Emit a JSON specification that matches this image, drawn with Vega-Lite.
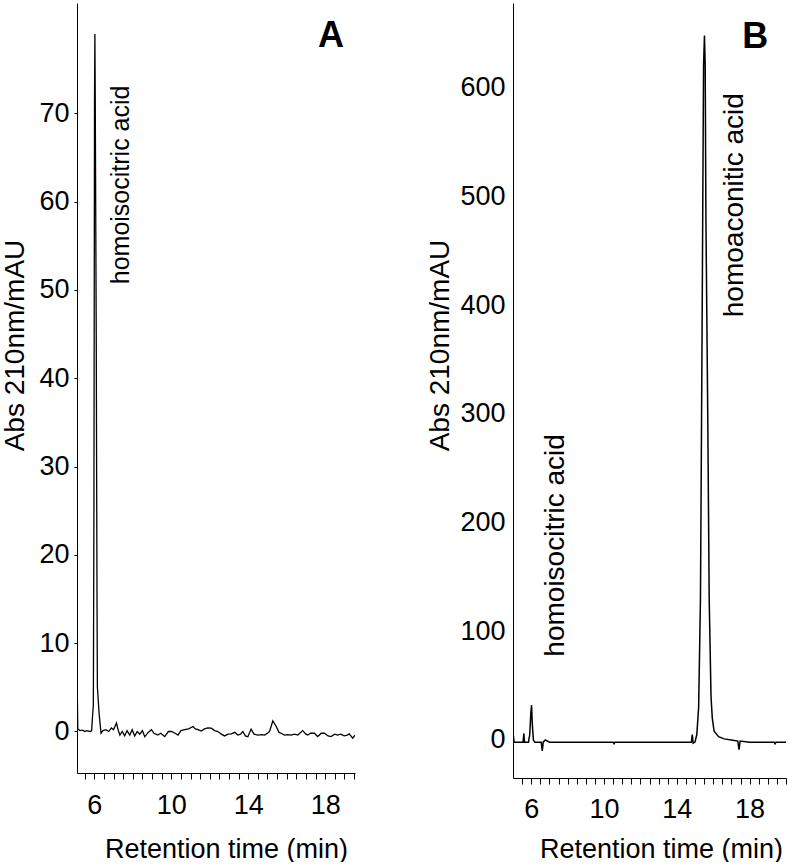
{
  "$schema": "https://vega.github.io/schema/vega-lite/v6.json",
  "padding": {"left": 1, "top": 3, "right": 0, "bottom": 0},
  "spacing": 71,
  "background": "white",
  "config": {
    "view": {"stroke": null},
    "font": "Liberation Sans",
    "axis": {"grid": false, "domainColor": "black", "tickColor": "black", "labelColor": "black", "titleColor": "black", "labelFont": "Liberation Sans", "titleFont": "Liberation Sans", "titleFontWeight": "normal", "labelOverlap": false, "labelFlush": false, "tickCount": 100}
  },
  "datasets": {
    "a": [
      {"t": 5.1, "v": 6.8}, {"t": 5.14, "v": 0.3}, {"t": 5.25, "v": 0.1}, {"t": 5.4, "v": 0.15}, {"t": 5.5, "v": 0.0}, {"t": 5.6, "v": 0.1}, {"t": 5.7, "v": 0.05}, {"t": 5.8, "v": 0.0}, {"t": 5.86, "v": 0.1},
      {"t": 5.9, "v": 1.5}, {"t": 5.95, "v": 3}, {"t": 5.98, "v": 25}, {"t": 6.01, "v": 71}, {"t": 6.03, "v": 79}, {"t": 6.05, "v": 71}, {"t": 6.1, "v": 45}, {"t": 6.14, "v": 15}, {"t": 6.16, "v": 5}, {"t": 6.25, "v": 2}, {"t": 6.35, "v": -0.2},
      {"t": 6.45, "v": 0.1}, {"t": 6.6, "v": 0.2}, {"t": 6.75, "v": 0.0}, {"t": 6.89, "v": 0.4}, {"t": 7.0, "v": 0.2}, {"t": 7.15, "v": 0.95}, {"t": 7.25, "v": 0.1}, {"t": 7.33, "v": -0.4}, {"t": 7.45, "v": 0.0}, {"t": 7.58, "v": -0.5}, {"t": 7.7, "v": 0.1}, {"t": 7.84, "v": -0.4}, {"t": 7.97, "v": 0.2}, {"t": 8.1, "v": -0.5}, {"t": 8.23, "v": 0.0}, {"t": 8.36, "v": -0.3}, {"t": 8.5, "v": 0.1}, {"t": 8.62, "v": -0.6}, {"t": 8.8, "v": -0.1}, {"t": 8.97, "v": 0.2}, {"t": 9.1, "v": -0.2}, {"t": 9.31, "v": -0.4}, {"t": 9.45, "v": -0.2}, {"t": 9.66, "v": -0.57}, {"t": 9.85, "v": 0.0}, {"t": 10.01, "v": 0.0}, {"t": 10.2, "v": -0.2}, {"t": 10.35, "v": -0.4}, {"t": 10.5, "v": 0.1}, {"t": 10.7, "v": 0.2}, {"t": 10.9, "v": 0.3}, {"t": 11.13, "v": 0.57}, {"t": 11.25, "v": 0.3}, {"t": 11.39, "v": 0.2}, {"t": 11.55, "v": 0.05}, {"t": 11.73, "v": 0.3}, {"t": 11.9, "v": 0.4}, {"t": 12.08, "v": 0.38}, {"t": 12.25, "v": 0.1}, {"t": 12.43, "v": 0.0}, {"t": 12.6, "v": -0.3}, {"t": 12.77, "v": -0.5}, {"t": 12.95, "v": -0.3}, {"t": 13.12, "v": -0.27}, {"t": 13.3, "v": -0.1}, {"t": 13.46, "v": -0.4}, {"t": 13.6, "v": -0.3}, {"t": 13.72, "v": 0.0}, {"t": 13.85, "v": -0.5}, {"t": 13.98, "v": -0.6}, {"t": 14.15, "v": 0.27}, {"t": 14.3, "v": -0.3}, {"t": 14.5, "v": -0.4}, {"t": 14.7, "v": -0.35}, {"t": 14.85, "v": -0.4}, {"t": 15.0, "v": -0.2}, {"t": 15.11, "v": 0.0}, {"t": 15.28, "v": 1.2}, {"t": 15.45, "v": 0.6}, {"t": 15.6, "v": -0.1}, {"t": 15.71, "v": -0.2}, {"t": 15.88, "v": -0.4}, {"t": 16.05, "v": -0.35}, {"t": 16.23, "v": -0.4}, {"t": 16.4, "v": -0.3}, {"t": 16.58, "v": -0.4}, {"t": 16.83, "v": 0.1}, {"t": 17.0, "v": -0.3}, {"t": 17.09, "v": -0.4}, {"t": 17.25, "v": -0.2}, {"t": 17.44, "v": -0.2}, {"t": 17.61, "v": -0.57}, {"t": 17.8, "v": -0.2}, {"t": 17.96, "v": -0.2}, {"t": 18.15, "v": -0.5}, {"t": 18.3, "v": -0.57}, {"t": 18.5, "v": -0.3}, {"t": 18.65, "v": -0.4}, {"t": 18.8, "v": -0.3}, {"t": 18.99, "v": -0.5}, {"t": 19.15, "v": -0.4}, {"t": 19.25, "v": -0.27}, {"t": 19.43, "v": -0.76}, {"t": 19.55, "v": -0.4}
    ],
    "b": [
      {"t": 5.0, "v": -2}, {"t": 5.02, "v": 4}, {"t": 5.06, "v": -2}, {"t": 5.3, "v": -2}, {"t": 5.55, "v": -2}, {"t": 5.6, "v": 6}, {"t": 5.63, "v": -2}, {"t": 5.85, "v": -2}, {"t": 5.92, "v": 5}, {"t": 5.98, "v": 25}, {"t": 6.02, "v": 32}, {"t": 6.06, "v": 15}, {"t": 6.12, "v": 0}, {"t": 6.2, "v": -2}, {"t": 6.55, "v": -2}, {"t": 6.61, "v": -10}, {"t": 6.66, "v": -2}, {"t": 6.78, "v": 0}, {"t": 7.0, "v": -2}, {"t": 10.5, "v": -2}, {"t": 10.55, "v": -3.5}, {"t": 10.6, "v": -2}, {"t": 14.8, "v": -2},
      {"t": 14.85, "v": 5}, {"t": 14.9, "v": -3}, {"t": 15.0, "v": -2}, {"t": 15.1, "v": 5}, {"t": 15.2, "v": 30}, {"t": 15.3, "v": 130}, {"t": 15.38, "v": 350}, {"t": 15.43, "v": 500}, {"t": 15.47, "v": 620}, {"t": 15.52, "v": 648}, {"t": 15.56, "v": 620}, {"t": 15.6, "v": 480}, {"t": 15.7, "v": 300}, {"t": 15.78, "v": 130}, {"t": 15.88, "v": 40}, {"t": 15.95, "v": 20}, {"t": 16.05, "v": 8}, {"t": 16.3, "v": 3}, {"t": 16.6, "v": 1}, {"t": 17.0, "v": 0}, {"t": 17.35, "v": -1}, {"t": 17.42, "v": -9}, {"t": 17.48, "v": -1}, {"t": 18.0, "v": -2}, {"t": 19.35, "v": -2}, {"t": 19.4, "v": -3.5}, {"t": 19.45, "v": -2}, {"t": 20.0, "v": -2}
    ],
    "labelsA": [
      {"t": 7.39, "v": 61.9, "text": "homoisocitric acid", "kind": "peak"},
      {"t": 18.3, "v": 78.8, "text": "A", "kind": "panel"}
    ],
    "labelsB": [
      {"t": 7.38, "v": 179, "text": "homoisocitric acid", "kind": "peak"},
      {"t": 17.2, "v": 492, "text": "homoaconitic acid", "kind": "peak"},
      {"t": 18.31, "v": 646.7, "text": "B", "kind": "panel"}
    ]
  },
  "hconcat": [
    {
      "width": 278,
      "height": 770,
      "layer": [
        {
          "data": {"name": "a"},
          "mark": {"type": "line", "color": "black", "strokeWidth": 1.3, "clip": true},
          "encoding": {
            "x": {"field": "t", "type": "quantitative", "scale": {"domain": [5.1, 19.55], "nice": false, "zero": false},
              "axis": {"values": [5.5,6,6.5,7,7.5,8,8.5,9,9.5,10,10.5,11,11.5,12,12.5,13,13.5,14,14.5,15,15.5,16,16.5,17,17.5,18,18.5,19,19.5],
                "labelExpr": "indexof([6,10,14,18], datum.value) >= 0 ? format(datum.value, 'd') : ''", "tickCount": 100,
                "tickSize": 6, "labelPadding": 13, "labelFontSize": 27, "title": "Retention time  (min)", "titleFontSize": 27, "titleX": 149, "titleY": 84, "titleBaseline": "alphabetic"}},
            "y": {"field": "v", "type": "quantitative", "scale": {"domain": [-4.7, 82.5], "nice": false, "zero": false},
              "axis": {"values": [0,10,20,30,40,50,60,70], "tickSize": 3, "labelPadding": 5, "labelFontSize": 27, "title": "Abs 210nm/mAU", "titleFontSize": 28, "titleX": -62, "titleY": 342, "titleBaseline": "middle"}}
          }
        },
        {
          "data": {"name": "labelsA"},
          "transform": [{"filter": "datum.kind === 'peak'"}],
          "mark": {"type": "text", "angle": 270, "fontSize": 25, "font": "Liberation Sans", "color": "black", "align": "center", "baseline": "middle"},
          "encoding": {"x": {"field": "t", "type": "quantitative"}, "y": {"field": "v", "type": "quantitative"}, "text": {"field": "text"}}
        },
        {
          "data": {"name": "labelsA"},
          "transform": [{"filter": "datum.kind === 'panel'"}],
          "mark": {"type": "text", "fontSize": 36, "fontWeight": "bold", "font": "Liberation Sans", "color": "black", "align": "center", "baseline": "middle"},
          "encoding": {"x": {"field": "t", "type": "quantitative"}, "y": {"field": "v", "type": "quantitative"}, "text": {"field": "text"}}
        }
      ]
    },
    {
      "width": 273,
      "height": 775,
      "layer": [
        {
          "data": {"name": "b"},
          "mark": {"type": "line", "color": "black", "strokeWidth": 1.5, "clip": true},
          "encoding": {
            "x": {"field": "t", "type": "quantitative", "scale": {"domain": [5, 20], "nice": false, "zero": false},
              "axis": {"values": [5.5,6,6.5,7,7.5,8,8.5,9,9.5,10,10.5,11,11.5,12,12.5,13,13.5,14,14.5,15,15.5,16,16.5,17,17.5,18,18.5,19,19.5,20],
                "labelExpr": "indexof([6,10,14,18], datum.value) >= 0 ? format(datum.value, 'd') : ''", "tickCount": 100,
                "tickSize": 6, "labelPadding": 12, "labelFontSize": 27, "title": "Retention time  (min)", "titleFontSize": 27, "titleX": 148, "titleY": 79, "titleBaseline": "alphabetic"}},
            "y": {"field": "v", "type": "quantitative", "scale": {"domain": [-35, 678], "nice": false, "zero": false},
              "axis": {"values": [0,100,200,300,400,500,600], "ticks": false, "labelPadding": 8, "labelFontSize": 27, "title": "Abs 210nm/mAU", "titleFontSize": 28, "titleX": -73, "titleY": 342, "titleBaseline": "middle"}}
          }
        },
        {
          "data": {"name": "labelsB"},
          "transform": [{"filter": "datum.kind === 'peak'"}],
          "mark": {"type": "text", "angle": 270, "fontSize": 28, "font": "Liberation Sans", "color": "black", "align": "center", "baseline": "middle"},
          "encoding": {"x": {"field": "t", "type": "quantitative"}, "y": {"field": "v", "type": "quantitative"}, "text": {"field": "text"}}
        },
        {
          "data": {"name": "labelsB"},
          "transform": [{"filter": "datum.kind === 'panel'"}],
          "mark": {"type": "text", "fontSize": 36, "fontWeight": "bold", "font": "Liberation Sans", "color": "black", "align": "center", "baseline": "middle"},
          "encoding": {"x": {"field": "t", "type": "quantitative"}, "y": {"field": "v", "type": "quantitative"}, "text": {"field": "text"}}
        }
      ]
    }
  ]
}
